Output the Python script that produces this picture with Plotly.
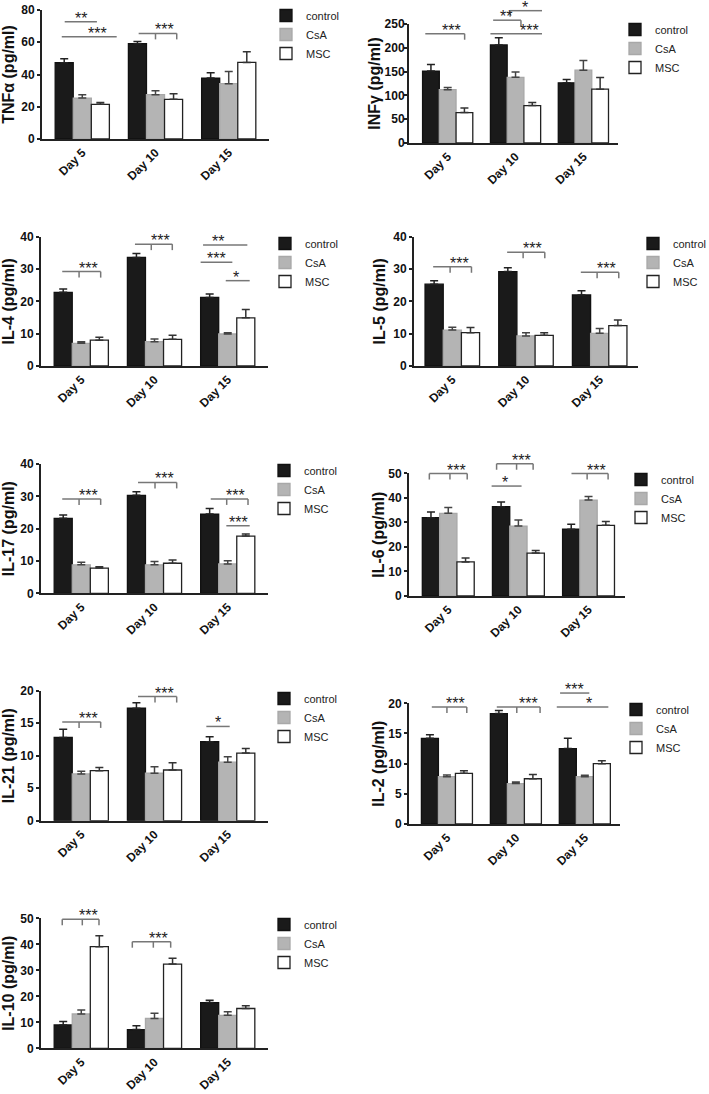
import plotly.graph_objects as go

W, H = 709, 1094
FONT = "Liberation Sans, Arial, sans-serif"

days = ["Day 5", "Day 10", "Day 15"]
groups = ["control", "CsA", "MSC"]

# ---------------- data (mean, upper SEM) ----------------
tnf_control = [47.3, 59.1, 37.8]
tnf_control_err = [2.5, 1.4, 3.3]
tnf_csa = [25.4, 27.5, 34.3]
tnf_csa_err = [2.1, 2.5, 7.6]
tnf_msc = [21.5, 24.6, 47.5]
tnf_msc_err = [1.2, 3.5, 6.6]

inf_control = [151, 206, 126.4]
inf_control_err = [14, 15, 7]
inf_csa = [112, 138, 153]
inf_csa_err = [4.6, 11, 20.5]
inf_msc = [64, 78.7, 113]
inf_msc_err = [9.7, 6.3, 24.6]

il4_control = [22.8, 33.6, 21.2]
il4_control_err = [1.0, 1.2, 1.1]
il4_csa = [7.0, 7.5, 9.9]
il4_csa_err = [0.5, 0.85, 0.4]
il4_msc = [8.0, 8.25, 14.9]
il4_msc_err = [0.9, 1.25, 2.6]

il5_control = [25.3, 29.2, 22.0]
il5_control_err = [1.1, 1.2, 1.3]
il5_csa = [11.1, 9.3, 10.1]
il5_csa_err = [0.9, 1.0, 1.5]
il5_msc = [10.3, 9.5, 12.5]
il5_msc_err = [1.6, 0.8, 1.7]

il17_control = [23.2, 30.3, 24.5]
il17_control_err = [1.0, 1.1, 1.7]
il17_csa = [8.8, 8.8, 9.1]
il17_csa_err = [0.8, 1.0, 1.0]
il17_msc = [7.8, 9.3, 17.7]
il17_msc_err = [0.4, 1.0, 0.65]

il6_control = [31.9, 36.4, 27.2]
il6_control_err = [2.3, 1.9, 2.0]
il6_csa = [33.7, 28.5, 39.1]
il6_csa_err = [2.4, 2.5, 1.4]
il6_msc = [13.9, 17.5, 28.8]
il6_msc_err = [1.6, 1.0, 1.6]

il21_control = [12.8, 17.3, 12.15]
il21_control_err = [1.25, 0.85, 0.75]
il21_csa = [7.2, 7.3, 9.0]
il21_csa_err = [0.4, 1.0, 0.85]
il21_msc = [7.7, 7.8, 10.4]
il21_msc_err = [0.5, 1.1, 0.7]

il2_control = [14.2, 18.3, 12.5]
il2_control_err = [0.6, 0.5, 1.7]
il2_csa = [7.85, 6.7, 7.85]
il2_csa_err = [0.25, 0.26, 0.22]
il2_msc = [8.4, 7.5, 10.0]
il2_msc_err = [0.44, 0.7, 0.5]

il10_control = [9.0, 7.2, 17.6]
il10_control_err = [1.3, 1.5, 0.9]
il10_csa = [13.2, 11.5, 12.7]
il10_csa_err = [1.5, 2.0, 1.4]
il10_msc = [39.1, 32.4, 15.3]
il10_msc_err = [4.2, 2.2, 1.1]

# significance brackets: (x start, x end, level, tick positions, label, label x)
tnf_sig = [(-0.24, 0.20, 72.7, [], "**", -0.02),
           (-0.28, 0.47, 63.4, [], "***", 0.21),
           (0.77, 1.29, 65.5, [1.0, 1.29], "***", 1.12)]
inf_sig = [(-0.33, 0.25, 229.6, [0.25], "***", 0.06),
           (0.67, 1.08, 258, [1.08], "**", 0.86),
           (0.92, 1.39, 278, [0.92], "*", 1.14),
           (0.63, 1.39, 229.6, [], "***", 1.21)]
il4_sig = [(-0.26, 0.265, 29.2, [-0.03, 0.265], "***", 0.096),
           (0.733, 1.243, 37.7, [0.956, 1.243], "***", 1.085),
           (1.663, 2.268, 37.4, [], "**", 1.872),
           (1.63, 2.063, 32.1, [], "***", 1.844),
           (1.973, 2.3, 26.4, [], "*", 2.109)]
il5_sig = [(-0.26, 0.26, 30.7, [-0.03, 0.26], "***", 0.093),
           (0.744, 1.255, 35.2, [0.961, 1.255], "***", 1.088),
           (1.744, 2.259, 29.0, [1.965, 2.259], "***", 2.092)]
il17_sig = [(-0.26, 0.265, 29.2, [-0.03, 0.265], "***", 0.096),
            (0.775, 1.303, 34.3, [1.007, 1.303], "***", 1.139),
            (1.768, 2.277, 29.2, [1.986, 2.277], "***", 2.109),
            (1.981, 2.3, 20.9, [], "***", 2.145)]
il6_sig = [(-0.27, 0.27, 49.9, [-0.27, 0.024, 0.27], "***", 0.119),
           (0.689, 1.21, 53.9, [0.689, 0.974, 1.21], "***", 1.045),
           (0.618, 1.045, 44.8, [], "*", 0.808),
           (1.757, 2.279, 49.9, [1.98, 2.279], "***", 2.114)]
il21_sig = [(-0.26, 0.265, 15.2, [-0.03, 0.265], "***", 0.096),
            (0.775, 1.303, 19.1, [1.007, 1.303], "***", 1.139),
            (1.708, 2.027, 14.5, [], "*", 1.872)]
il2_sig = [(-0.219, 0.288, 19.4, [0.0, 0.288], "***", 0.129),
           (0.723, 1.351, 19.4, [1.013, 1.351], "***", 1.181),
           (1.641, 2.065, 21.7, [], "***", 1.848),
           (1.593, 2.341, 19.4, [], "*", 2.065)]
il10_sig = [(-0.26, 0.242, 49.6, [-0.26, 0.014, 0.242], "***", 0.096),
            (0.697, 1.221, 41.0, [0.697, 0.984, 1.221], "***", 1.048)]

titles = ["TNFα (pg/ml)", "INFγ (pg/ml)", "IL-4 (pg/ml)", "IL-5 (pg/ml)",
          "IL-17 (pg/ml)", "IL-6 (pg/ml)", "IL-21 (pg/ml)", "IL-2 (pg/ml)",
          "IL-10 (pg/ml)"]
y_max = [80, 250, 40, 40, 40, 50, 20, 20, 50]
y_step = [20, 50, 10, 10, 10, 10, 5, 5, 10]

panel_values = [
    (tnf_control, tnf_control_err, tnf_csa, tnf_csa_err, tnf_msc, tnf_msc_err),
    (inf_control, inf_control_err, inf_csa, inf_csa_err, inf_msc, inf_msc_err),
    (il4_control, il4_control_err, il4_csa, il4_csa_err, il4_msc, il4_msc_err),
    (il5_control, il5_control_err, il5_csa, il5_csa_err, il5_msc, il5_msc_err),
    (il17_control, il17_control_err, il17_csa, il17_csa_err, il17_msc, il17_msc_err),
    (il6_control, il6_control_err, il6_csa, il6_csa_err, il6_msc, il6_msc_err),
    (il21_control, il21_control_err, il21_csa, il21_csa_err, il21_msc, il21_msc_err),
    (il2_control, il2_control_err, il2_csa, il2_csa_err, il2_msc, il2_msc_err),
    (il10_control, il10_control_err, il10_csa, il10_csa_err, il10_msc, il10_msc_err),
]
panel_sig = [tnf_sig, inf_sig, il4_sig, il5_sig, il17_sig, il6_sig, il21_sig, il2_sig, il10_sig]

# ---------------- layout geometry (pixels) ----------------
plot_boxes = [  # x0, x1, y_top, y_bottom
    (42, 269, 10, 139), (409, 618, 24, 143),
    (41, 268, 236.7, 366), (414, 638, 236.7, 366),
    (41, 268, 464, 593.3), (409, 625, 473.3, 596),
    (41, 268, 690.7, 820.7), (409, 620, 703.3, 824),
    (41, 268, 918.3, 1048.3),
]
x_ranges = [(-0.55, 2.55), (-0.57, 2.51), (-0.55, 2.55), (-0.52, 2.52),
            (-0.55, 2.55), (-0.56, 2.52), (-0.55, 2.55), (-0.55, 2.51),
            (-0.55, 2.55)]
title_standoff = [4, 0, 4, 4, 4, 0, 4, 0, 4]
label_standoff = [0, -3, 0, 0, 0, 0, 0, 0, 0]
# (legend text start x, centre of middle legend row y)
legend_pos = [(306, 34), (655, 48), (305, 262), (673, 262), (304, 489),
              (661, 498), (304, 717), (656, 728), (304, 943)]

fill_colors = ["#1a1a1a", "#b4b4b4", "#ffffff"]
line_colors = ["#111111", "#a8a8a8", "#222222"]
err_colors = ["#222222", "#444444", "#333333"]

fig = go.Figure()
shapes = []
annotations = []
layout = {}

for i in range(9):
    n = i + 1
    sfx = "" if n == 1 else str(n)
    xa, ya = "x" + sfx, "y" + sfx
    leg = "legend" + sfx
    vals = panel_values[i]
    for g in range(3):
        fig.add_trace(go.Bar(
            x=days, y=vals[2 * g], name=groups[g],
            xaxis=xa, yaxis=ya, legend=leg,
            marker=dict(color=fill_colors[g],
                        line=dict(color=line_colors[g], width=1.3)),
            error_y=dict(type="data", array=vals[2 * g + 1], symmetric=False,
                         arrayminus=[0, 0, 0], color=err_colors[g],
                         thickness=1.5, width=4),
        ))
    x0, x1, yt, yb = plot_boxes[i]
    layout["xaxis" + sfx] = dict(
        domain=[x0 / W, x1 / W], anchor=ya, range=list(x_ranges[i]),
        type="category", categoryorder="array", categoryarray=days,
        showline=True, linecolor="#222222", linewidth=2, ticks="",
        tickangle=-45, showgrid=False, zeroline=False, automargin=False,
        tickfont=dict(family=FONT, size=12, color="#111111", weight=700),
    )
    layout["yaxis" + sfx] = dict(
        domain=[1 - yb / H, 1 - yt / H], anchor=xa, range=[0, y_max[i]],
        tickmode="linear", tick0=0, dtick=y_step[i],
        showline=True, linecolor="#222222", linewidth=2,
        ticks="outside", ticklen=3, tickwidth=2, tickcolor="#222222",
        ticklabelstandoff=label_standoff[i],
        showgrid=False, zeroline=False, automargin=False,
        tickfont=dict(family=FONT, size=12, color="#111111", weight=700),
        title=dict(text=titles[i], standoff=title_standoff[i],
                   font=dict(family=FONT, size=16, color="#111111", weight=700)),
    )
    tx, my = legend_pos[i]
    layout[leg] = dict(
        x=(tx - 40) / W, y=1 - (my - 33) / H, xanchor="left", yanchor="top",
        bgcolor="rgba(0,0,0,0)", borderwidth=0,
        font=dict(family=FONT, size=11, color="#222222"),
    )
    # significance brackets
    drop = 6 / (yb - yt)
    for (sx0, sx1, lev, tks, lab, labx) in panel_sig[i]:
        yd = lev / y_max[i]
        line = dict(color="#777777", width=1.5)
        shapes.append(dict(type="line", xref=xa, yref=ya + " domain",
                           x0=sx0, x1=sx1, y0=yd, y1=yd, line=line))
        for tk in tks:
            shapes.append(dict(type="line", xref=xa, yref=ya + " domain",
                               x0=tk, x1=tk, y0=yd, y1=yd - drop, line=line))
        annotations.append(dict(x=labx, y=yd, xref=xa, yref=ya + " domain",
                                text=lab, showarrow=False, xanchor="center",
                                yanchor="bottom", yshift=-7,
                                font=dict(family=FONT, size=16, color="#222222")))

fig.update_layout(
    width=W, height=H,
    margin=dict(l=0, r=0, t=0, b=0, pad=0, autoexpand=False),
    paper_bgcolor="white", plot_bgcolor="white",
    barmode="group", bargap=0.26, bargroupgap=0,
    shapes=shapes, annotations=annotations, **layout,
)

fig.write_html("out.html", config={"displayModeBar": False},
               post_script="document.body.style.margin='0px';")
